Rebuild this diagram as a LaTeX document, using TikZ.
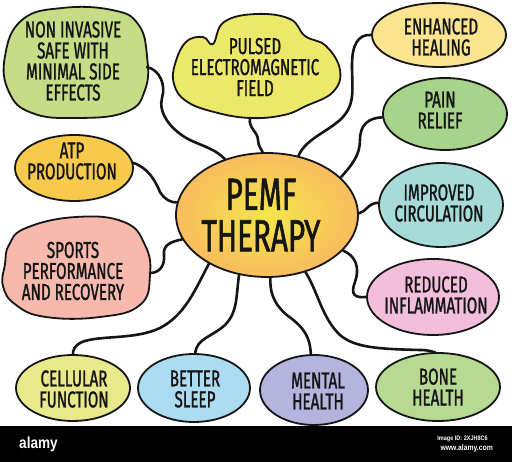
\documentclass[tikz,border=0pt]{standalone}
\usepackage{fontspec}
\setmainfont{Fira Sans}
\newfontfamily\hand{Fira Sans}[FakeStretch=0.66, FakeBold=1.2]
\newfontfamily\wm{Liberation Sans}[FakeStretch=0.85]
\usetikzlibrary{shapes.geometric}
\definecolor{ink}{HTML}{151515}
\definecolor{cNinv}{HTML}{C6DC86}
\definecolor{cPuls}{HTML}{ECE96A}
\definecolor{cEnh}{HTML}{FBE48F}
\definecolor{cPain}{HTML}{A7D48A}
\definecolor{cCirc}{HTML}{A6DBD8}
\definecolor{cInfl}{HTML}{F2BEDC}
\definecolor{cAtp}{HTML}{F8CA4B}
\definecolor{cSport}{HTML}{F7B8AD}
\definecolor{cCell}{HTML}{E7E98B}
\definecolor{cSleep}{HTML}{ABDCF1}
\definecolor{cMent}{HTML}{B5B4DE}
\definecolor{cBone}{HTML}{B7DA93}
\definecolor{cIn}{HTML}{F3E74B}
\definecolor{cOut}{HTML}{F9BC5E}
\begin{document}
\begin{tikzpicture}[x=1pt,y=-1pt,
  bubble/.style={ellipse, draw=ink, line width=1.8pt, inner sep=0pt},
  blob/.style={draw=ink, line width=1.8pt},
  lbl/.style={font=\hand\fontsize{23}{21}\selectfont, align=center, inner sep=0pt, text=ink},
  biglbl/.style={font=\hand\fontsize{45}{41.5}\selectfont, align=center, inner sep=0pt, text=ink},
  link/.style={draw=ink, line width=2.6pt, line cap=round}]
\useasboundingbox (0,0) rectangle (512,462);
\fill[white] (0,0) rectangle (512,462);

\node[bubble, minimum width=182pt, minimum height=124pt, inner color=cIn, outer color=cOut] (c) at (267,215) {};
\node[bubble, fill=cEnh, minimum width=134pt, minimum height=64pt] (enh) at (439,35) {};
\node[bubble, fill=cPain, minimum width=124pt, minimum height=72pt] (pain) at (445,114) {};
\node[bubble, fill=cCirc, minimum width=124pt, minimum height=84pt] (circ) at (441,205) {};
\node[bubble, fill=cInfl, minimum width=132pt, minimum height=76pt] (infl) at (433,297) {};
\node[bubble, fill=cAtp, minimum width=118pt, minimum height=66pt] (atp) at (74,168) {};
\node[bubble, fill=cCell, minimum width=114pt, minimum height=66pt] (cell) at (73,388) {};
\node[bubble, fill=cSleep, minimum width=112pt, minimum height=68pt] (sleep) at (194,388) {};
\node[bubble, fill=cMent, minimum width=108pt, minimum height=70pt] (ment) at (314,390) {};
\node[bubble, fill=cBone, minimum width=124pt, minimum height=68pt] (bone) at (438,387) {};

% blobs
\draw[blob, fill=cNinv] plot[smooth cycle, tension=0.75] coordinates {(22,20) (62,8) (112,10) (138,24) (147,56) (145,90) (126,112) (76,118) (32,113) (9,92) (5,56)};
\draw[blob, fill=cPuls] plot[smooth cycle, tension=0.7] coordinates {(175,64) (186,42) (203,37) (213,44) (224,22) (256,14) (290,19) (305,36) (326,46) (340,70) (333,92) (306,106) (284,115) (250,118) (214,112) (186,101) (174,84)};
\draw[blob, fill=cSport] plot[smooth cycle, tension=0.75] coordinates {(26,228) (76,217) (124,222) (145,245) (150,275) (140,305) (100,317) (46,317) (16,305) (3,286) (5,264) (9,245)};
\coordinate (ninv) at (147,67);
\coordinate (puls) at (250,118);
\coordinate (sport) at (150,273);

% connectors
\draw[link] (ninv) .. controls (160,70) and (166,85) .. (162,98) .. controls (158,112) and (170,130) .. (190,140) .. controls (205,147) and (215,149) .. (c.127);
\draw[link] (puls) .. controls (248,128) and (258,132) .. (258,140) .. controls (258,146) and (262,150) .. (c.94);
\draw[link] (enh.180) .. controls (358,34) and (352,45) .. (352,65) .. controls (352,90) and (356,105) .. (340,120) .. controls (325,133) and (305,140) .. (c.62);
\draw[link] (pain.183) .. controls (368,118) and (360,125) .. (360,140) .. controls (360,155) and (352,165) .. (c.27);
\draw[link] (circ.178) .. controls (368,203) and (366,212) .. (c.1);
\draw[link] (c.-25) .. controls (356,256) and (360,268) .. (355,282) .. controls (350,295) and (355,298) .. (infl.180);
\draw[link] (c.-56) .. controls (318,292) and (322,318) .. (340,335) .. controls (355,348) and (380,349) .. (420,350) .. controls (430,350) and (432,352) .. (bone.95);
\draw[link] (c.-87) .. controls (270,290) and (272,303) .. (288,316) .. controls (305,328) and (310,338) .. (ment.95);
\draw[link] (c.-115) .. controls (236,295) and (238,312) .. (225,325) .. controls (212,337) and (197,338) .. (sleep.88);
\draw[link] (c.-140) .. controls (195,290) and (185,315) .. (160,328) .. controls (135,340) and (100,335) .. (82,342) .. controls (74,346) and (73,350) .. (cell.90);
\draw[link] (sport) .. controls (160,273) and (165,265) .. (164,255) .. controls (163,245) and (170,242) .. (c.196);
\draw[link] (atp.5) .. controls (148,168) and (155,180) .. (160,192) .. controls (165,200) and (172,203) .. (c.172);

% labels
\node[biglbl] (c-t) at (261,215) {PEMF\\THERAPY};
\node[lbl] (ninv-t) at (73,61) {NON INVASIVE\\SAFE WITH\\MINIMAL SIDE\\EFFECTS};
\node[lbl] (puls-t) at (255,67) {PULSED\\ELECTROMAGNETIC\\FIELD};
\node[lbl] (enh-t) at (441,37) {ENHANCED\\HEALING};
\node[lbl] (pain-t) at (440,110) {PAIN\\RELIEF};
\node[lbl] (circ-t) at (439,203) {IMPROVED\\CIRCULATION};
\node[lbl] (infl-t) at (436,295) {REDUCED\\INFLAMMATION};
\node[lbl] (atp-t) at (72,161) {ATP\\PRODUCTION};
\node[lbl] (sport-t) at (73,271) {SPORTS\\PERFORMANCE\\AND RECOVERY};
\node[lbl] (cell-t) at (74,389) {CELLULAR\\FUNCTION};
\node[lbl] (sleep-t) at (195,389) {BETTER\\SLEEP};
\node[lbl] (ment-t) at (318,391) {MENTAL\\HEALTH};
\node[lbl] (bone-t) at (438,387) {BONE\\HEALTH};

% watermark bar
\fill[black] (0,426) rectangle (512,462);
\node[anchor=west, inner sep=0pt, text=white, font=\wm\bfseries\fontsize{16}{16}\selectfont] (alamy) at (19,444) {alamy};
\node[anchor=east, inner sep=0pt, text=white, font=\wm\bfseries\fontsize{6.5}{7}\selectfont] (imgid) at (488,439) {Image ID: 2XJH8C6};
\node[anchor=east, inner sep=0pt, text=white, font=\wm\bfseries\fontsize{8}{8}\selectfont] (www) at (493,448) {www.alamy.com};
\end{tikzpicture}
\end{document}
